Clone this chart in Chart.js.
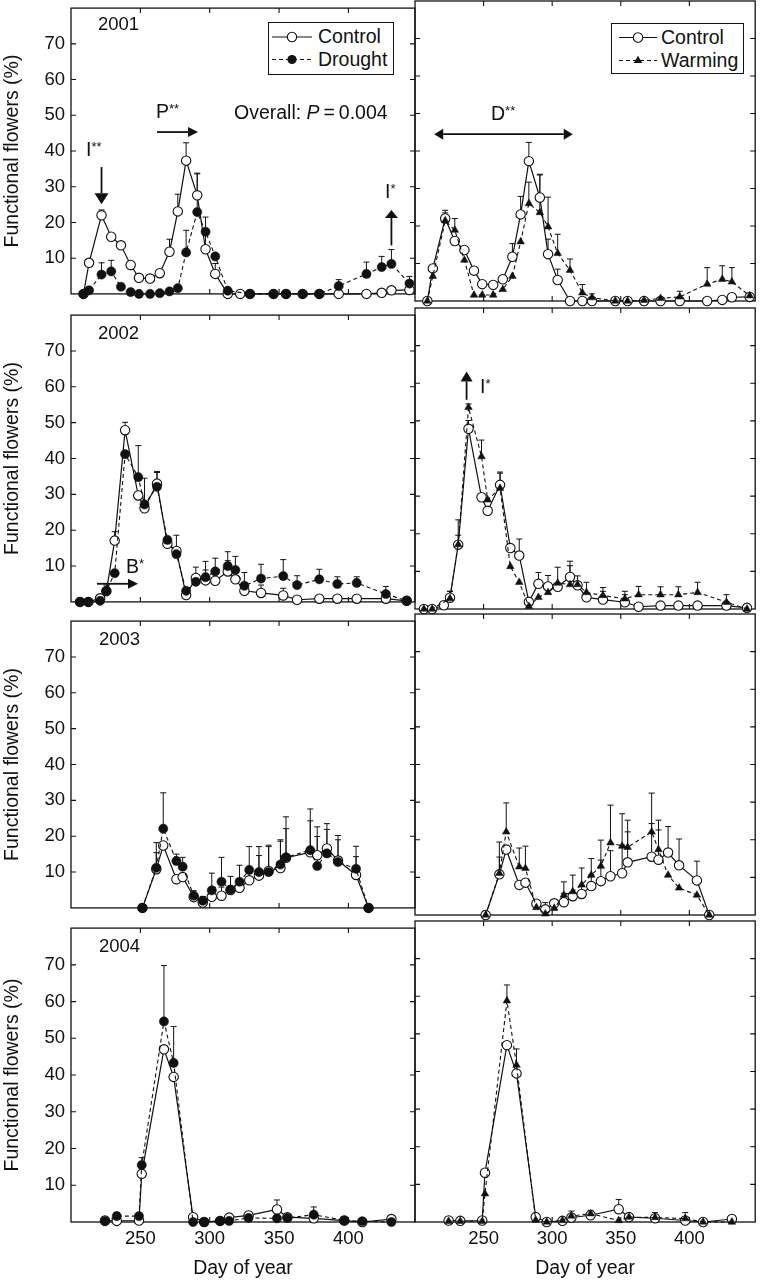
<!DOCTYPE html>
<html lang="en">
<head>
<meta charset="UTF-8">
<title>Functional flowers</title>
<script src="https://cdn.jsdelivr.net/npm/chart.js"></script>
<style>
  html, body { margin: 0; padding: 0; background: #fff; }
  #fig { position: relative; width: 761px; height: 1280px; overflow: hidden;
         font-family: "Liberation Sans", Arial, Helvetica, sans-serif; color: #111; }
  .lbl { position: absolute; font-size: 19.5px; line-height: 1; white-space: nowrap; transform: translateY(-50%); }
  .yr { font-size: 18.5px; }
  .ast { font-size: 13px; position: relative; top: -5px; }
  .legend { position: absolute; border: 1.3px solid #111; background: #fff; box-sizing: border-box; }
  .legend span { position: absolute; font-size: 19.5px; line-height: 1; transform: translateY(-50%); white-space: nowrap; }
  .legend svg { position: absolute; left: 0; top: 0; }
</style>
</head>
<body>
<div id="fig">
  <div class="lbl yr" style="left:98px;top:24px">2001</div>
  <div class="lbl yr" style="left:98px;top:333px">2002</div>
  <div class="lbl yr" style="left:99px;top:639px">2003</div>
  <div class="lbl yr" style="left:99px;top:946px">2004</div>

  <div class="lbl" style="left:86px;top:150px">I<span class="ast">**</span></div>
  <div class="lbl" style="left:156px;top:112px">P<span class="ast">**</span></div>
  <div class="lbl" style="left:234px;top:113px">Overall: <i>P</i>&#8201;=&#8201;0.004</div>
  <div class="lbl" style="left:385px;top:192px">I<span class="ast">*</span></div>
  <div class="lbl" style="left:491px;top:114px">D<span class="ast">**</span></div>
  <div class="lbl" style="left:126px;top:567px">B<span class="ast">*</span></div>
  <div class="lbl" style="left:480px;top:387px">I<span class="ast">*</span></div>

  <div class="legend" style="left:268px;top:22px;width:126px;height:53px">
    <svg width="50" height="52">
      <line x1="3" y1="14" x2="43" y2="14" stroke="#111" stroke-width="1.2"/>
      <circle cx="23" cy="14" r="4.7" fill="#fff" stroke="#111" stroke-width="1.1"/>
      <line x1="3" y1="36.5" x2="43" y2="36.5" stroke="#111" stroke-width="1.1" stroke-dasharray="4 3"/>
      <circle cx="23" cy="36.5" r="4.6" fill="#111"/>
    </svg>
    <span style="left:49px;top:14px">Control</span>
    <span style="left:49px;top:36.5px">Drought</span>
  </div>
  <div class="legend" style="left:611px;top:23px;width:133px;height:51px">
    <svg width="50" height="50">
      <line x1="7" y1="13.5" x2="45" y2="13.5" stroke="#111" stroke-width="1.2"/>
      <circle cx="26" cy="13.5" r="4.7" fill="#fff" stroke="#111" stroke-width="1.1"/>
      <line x1="7" y1="36.5" x2="45" y2="36.5" stroke="#111" stroke-width="1.1" stroke-dasharray="4 3"/>
      <polygon points="26,31.7 30.3,39 21.7,39" fill="#111"/>
    </svg>
    <span style="left:49px;top:13.5px">Control</span>
    <span style="left:49px;top:36.5px">Warming</span>
  </div>
</div>

<script>
  // ---- data (day of year, % functional flowers, upper error) ----
  const days2001 = [209, 213, 222, 229, 236, 243, 249, 257, 264, 271, 277, 283, 291, 297, 304, 313, 322, 329, 346, 355, 367, 379, 393, 413, 424, 431, 444];
  const control2001 = [0, 8.7, 22.0, 16.0, 13.6, 8.1, 4.5, 4.3, 5.8, 11.8, 23.1, 37.3, 27.6, 12.5, 5.6, 0, 0, 0, 0, 0, 0, 0, 0, 0, 0.3, 1.0, 1.1];
  const controlErr2001 = [null, null, 1.5, null, null, null, null, null, null, 3.5, 4.8, 5.0, 6.0, 4.0, 2.9, null, null, null, null, null, null, null, null, null, null, null, null];
  const drought2001 = [0, 1.0, 5.4, 6.3, 2.0, 0.5, 0, 0, 0.2, 0.7, 1.6, 11.6, 22.9, 17.4, 10.5, 0.9, null, 0, 0, 0, 0, 0, 2.2, 5.6, 7.5, 8.4, 2.9];
  const droughtErr2001 = [null, null, 3.3, 3.1, null, null, null, null, null, null, null, 6.2, 10.9, 4.1, null, null, null, null, null, null, null, null, 1.8, 3.3, 3.0, 4.0, 2.0];
  const warming2001 = [0, 6.6, 21.4, 18.9, 10.9, 1.6, 1.6, 1.6, 3.1, 6.6, 15.8, 26.0, 23.6, 19.8, 12.7, 8.2, 2.2, 0.9, 0, 0, 0.2, 0.7, 1.1, 4.5, 5.8, 5.1, 1.4];
  const warmingErr2001 = [null, null, 2.8, 3.1, null, null, null, null, null, null, null, 5.7, 10.2, 7.9, 5.1, 3.0, 2.2, 1.0, null, null, null, null, 1.5, 4.4, 3.6, 3.8, null];

  const days2002 = [206.5, 212.5, 221, 225.5, 231.5, 239, 248.5, 253, 262, 269.5, 276, 283, 290, 297, 304, 313, 318.5, 325, 337, 353, 363, 379, 392, 406, 427, 442];
  const control2002 = [0, 0, 1.0, 3.0, 17.1, 47.9, 29.7, 26.1, 33.0, 16.2, 14.2, 1.9, 6.7, 6.0, 5.9, 8.5, 6.3, 3.1, 2.5, 1.8, 0.6, 0.9, 0.9, 0.9, 0.9, 0.3];
  const controlErr2002 = [null, null, null, 1.7, 2.5, 2.2, null, null, 3.4, null, 4.4, null, 3.0, 2.9, null, 3.0, null, null, 2.2, 2.0, null, null, null, null, null, null];
  const drought2002 = [0, 0, 0.3, 3.1, 8.0, 41.2, 34.8, 27.2, 32.1, 17.3, 13.3, 3.1, 5.6, 6.9, 8.5, 10.0, 8.9, 4.5, 6.5, 7.2, 4.7, 6.3, 5.0, 5.3, 2.2, 0.3];
  const droughtErr2002 = [null, null, null, null, null, null, 8.8, 7.3, 4.0, null, null, null, null, 4.4, 3.7, 4.0, 3.8, 3.7, 4.0, 4.6, 2.6, 2.8, 2.0, 1.7, 2.1, null];
  const warming2002 = [0, 0, null, 2.8, 17.1, 53.6, 40.5, 29.0, 32.1, 11.3, 7.1, 0.7, 3.1, 4.4, 6.9, 6.5, 6.5, 4.4, 3.6, 2.7, 3.8, 3.8, 3.8, 4.4, 1.8, 0];
  const warmingErr2002 = [null, null, null, 1.9, 6.6, 0.9, 4.4, null, 4.0, null, null, null, null, null, 4.2, 6.2, 2.3, 2.7, 2.1, 2.0, 2.2, 2.1, 2.1, 2.7, 2.0, null];

  const days2003 = [251.5, 261.5, 266.5, 276, 280.5, 288.5, 295, 301.5, 308.5, 315, 321.5, 328.5, 335.5, 342.5, 351, 355, 372.5, 377.5, 384.5, 392.5, 405.5, 414.5];
  const control2003 = [0, 10.8, 17.4, 8.0, 8.6, 3.0, 1.5, 3.1, 3.4, 5.0, 5.6, 7.7, 9.0, 10.3, 11.1, 14.0, 15.5, 14.7, 16.6, 13.2, 9.2, 0];
  const controlErr2003 = [null, 4.6, null, null, null, null, null, null, 2.4, null, 2.0, 3.0, 5.6, 6.8, 7.5, 8.1, 8.8, 7.9, 6.9, 7.0, 5.1, null];
  const drought2003 = [0, 11.2, 22.1, 13.1, 11.5, 3.4, 2.0, 4.9, 7.3, 5.1, 7.3, 10.6, 10.0, 10.0, 12.1, 14.1, 16.1, 11.7, 15.2, 12.8, 10.9, 0];
  const droughtErr2003 = [null, 7.0, 10.0, 1.9, 2.6, 1.4, 1.2, 4.8, 6.8, 3.7, 4.6, 6.5, 7.1, 7.5, 6.9, 11.3, 11.5, 8.2, 6.7, 6.2, 6.3, null];
  const warming2003 = [0, 11.1, 22.1, 12.8, 12.4, 2.0, 0.3, 1.8, 5.3, 6.2, 8.0, 10.6, 13.0, 19.2, 18.3, 18.0, 22.1, 17.4, 10.6, 7.2, 5.3, 0];
  const warmingErr2003 = [null, 8.3, 7.7, 5.0, 5.9, null, 3.0, null, 3.5, 4.4, 4.5, 4.4, 6.9, 10.0, 8.6, 7.2, 10.3, 7.8, null, null, null, null];

  const days2004 = [224.5, 233, 249, 251, 267, 274, 288, 296, 307.5, 314, 328, 348.5, 356, 375, 397, 410, 431];
  const control2004 = [0.4, 0.3, 0.4, 13.1, 47.0, 39.5, 1.3, 0, 0.3, 1.2, 1.8, 3.4, 1.3, 1.0, 0.4, 0, 0.8];
  const controlErr2004 = [null, null, null, null, null, null, null, null, null, null, 0.8, 2.6, null, null, null, null, null];
  const drought2004 = [0.2, 1.6, 1.6, 15.5, 54.6, 43.3, 0, 0, 0.3, 0.3, 1.1, 1.0, 1.1, 2.0, 0.4, 0.2, 0];
  const droughtErr2004 = [null, 1.0, null, 2.0, 15.2, 9.9, null, null, null, null, null, null, 1.2, 2.1, null, null, null];
  const warming2004 = [0.2, 0.2, 0.2, 7.5, 58.8, 41.7, 0.5, 0, 0.4, 1.6, 2.2, 0.4, 1.3, 1.2, 0.9, 0, 0];
  const warmingErr2004 = [null, null, null, null, 4.2, 4.3, null, null, null, 1.3, 0.9, null, null, 1.3, 1.6, null, null];

  const xTicks = [250, 300, 350, 400];
  const yTicks = [10, 20, 30, 40, 50, 60, 70];

  // ---- layout ----
  const INK = '#111';
  const FONT = '"Liberation Sans", Arial, Helvetica, sans-serif';
  const rowTop = [1, 308, 614, 921];
  const rowH = [300, 301, 301, 301];
  const PAD = 10;

  const years = [
    { days: days2001, control: control2001, controlErr: controlErr2001, drought: drought2001, droughtErr: droughtErr2001, warming: warming2001, warmingErr: warmingErr2001 },
    { days: days2002, control: control2002, controlErr: controlErr2002, drought: drought2002, droughtErr: droughtErr2002, warming: warming2002, warmingErr: warmingErr2002 },
    { days: days2003, control: control2003, controlErr: controlErr2003, drought: drought2003, droughtErr: droughtErr2003, warming: warming2003, warmingErr: warmingErr2003 },
    { days: days2004, control: control2004, controlErr: controlErr2004, drought: drought2004, droughtErr: droughtErr2004, warming: warming2004, warmingErr: warmingErr2004 },
  ];

  // arrows in data units, keyed "row-col"
  const arrows = {
    '0-0': [
      { from: [222, 35.5], to: [222, 25.1], len: 11, half: 7 },
      { from: [262, 45.3], to: [291.6, 45.3], len: 10, half: 5 },
      { from: [431, 13.6], to: [431, 23.5], len: 8, half: 6.5 },
    ],
    '0-1': [{ from: [214, 44.5], to: [315, 44.5], len: 9, half: 5.5, both: true }],
    '1-0': [{ from: [218.7, 5.05], to: [248.3, 5.05], len: 10, half: 5 }],
    '1-1': [{ from: [237.6, 55.6], to: [237.6, 63.1], len: 10, half: 6 }],
  };

  const panelDeco = {
    id: 'panelDeco',
    beforeDatasetsDraw(chart) {
      const { ctx, chartArea: a, scales: { x, y } } = chart;
      ctx.save();
      ctx.strokeStyle = INK;
      ctx.lineWidth = 1.3;
      ctx.strokeRect(a.left, a.top, a.right - a.left, a.bottom - a.top);
      ctx.lineWidth = 1.1;
      ctx.beginPath();
      xTicks.forEach(v => {
        const px = x.getPixelForValue(v);
        ctx.moveTo(px, a.top); ctx.lineTo(px, a.top + 5);
        ctx.moveTo(px, a.bottom); ctx.lineTo(px, a.bottom - 5);
      });
      yTicks.forEach(v => {
        const py = y.getPixelForValue(v);
        ctx.moveTo(a.left, py); ctx.lineTo(a.left + 5, py);
        ctx.moveTo(a.right, py); ctx.lineTo(a.right - 5, py);
      });
      ctx.stroke();

      // upper error bars
      ctx.lineWidth = 1;
      chart.data.datasets.forEach(ds => {
        (ds.errors || []).forEach((e, i) => {
          const p = ds.data[i];
          if (e == null || p.y == null) return;
          const px = x.getPixelForValue(p.x);
          const py = y.getPixelForValue(p.y);
          const pt = y.getPixelForValue(p.y + e);
          ctx.beginPath();
          ctx.moveTo(px, py); ctx.lineTo(px, pt);
          ctx.moveTo(px - 3, pt); ctx.lineTo(px + 3, pt);
          ctx.stroke();
        });
      });
      ctx.restore();
    },
    afterDatasetsDraw(chart, args, opts) {
      const { ctx, scales: { x, y } } = chart;
      ctx.save();
      ctx.strokeStyle = INK;
      ctx.fillStyle = INK;
      ctx.lineWidth = 1.8;
      const head = (tx, ty, ux, uy, len, half) => {
        ctx.beginPath();
        ctx.moveTo(tx, ty);
        ctx.lineTo(tx - ux * len - uy * half, ty - uy * len + ux * half);
        ctx.lineTo(tx - ux * len + uy * half, ty - uy * len - ux * half);
        ctx.closePath();
        ctx.fill();
      };
      (opts.arrows || []).forEach(ar => {
        const x0 = x.getPixelForValue(ar.from[0]), y0 = y.getPixelForValue(ar.from[1]);
        const x1 = x.getPixelForValue(ar.to[0]), y1 = y.getPixelForValue(ar.to[1]);
        const d = Math.hypot(x1 - x0, y1 - y0);
        const ux = (x1 - x0) / d, uy = (y1 - y0) / d;
        const s = ar.both ? ar.len : 0;
        ctx.beginPath();
        ctx.moveTo(x0 + ux * s, y0 + uy * s);
        ctx.lineTo(x1 - ux * ar.len, y1 - uy * ar.len);
        ctx.stroke();
        head(x1, y1, ux, uy, ar.len, ar.half);
        if (ar.both) head(x0, y0, -ux, -uy, ar.len, ar.half);
      });
      ctx.restore();
    }
  };

  const series = (days, vals) => days.map((d, i) => ({ x: d, y: vals[i] }));

  const fig = document.getElementById('fig');

  function addPanel(r, c) {
    const yr = years[r];
    const bottomRow = r === 3;
    const left = c === 0 ? 0 : 415 - PAD;
    const right = c === 0 ? 415 + PAD : 761;
    const top = rowTop[r] - PAD;
    const bottom = bottomRow ? 1280 : rowTop[r] + rowH[r] + PAD;

    const cv = document.createElement('canvas');
    cv.width = right - left;
    cv.height = bottom - top;
    cv.style.cssText = `position:absolute;left:${left}px;top:${top}px;width:${right - left}px;height:${bottom - top}px`;
    fig.insertBefore(cv, fig.firstChild);

    const treat = c === 0 ? yr.drought : yr.warming;
    const treatErr = c === 0 ? yr.droughtErr : yr.warmingErr;

    new Chart(cv, {
      type: 'line',
      data: {
        datasets: [
          {
            label: 'Control',
            data: series(yr.days, yr.control),
            errors: yr.controlErr,
            order: 2,
            borderColor: INK,
            borderWidth: 1.2,
            pointStyle: 'circle',
            pointRadius: 4.7,
            pointBorderWidth: 1.1,
            pointBackgroundColor: '#fff',
            pointBorderColor: INK,
            spanGaps: true,
            clip: false,
          },
          {
            label: c === 0 ? 'Drought' : 'Warming',
            data: series(yr.days, treat),
            errors: treatErr,
            order: 1,
            borderColor: INK,
            borderWidth: 1.1,
            borderDash: [4, 3],
            pointStyle: c === 0 ? 'circle' : 'triangle',
            pointRadius: c === 0 ? 4.6 : 4.4,
            pointBorderWidth: 0.5,
            pointBackgroundColor: INK,
            pointBorderColor: INK,
            spanGaps: true,
            clip: false,
          },
        ],
      },
      options: {
        responsive: false,
        animation: false,
        devicePixelRatio: 1,
        events: [],
        layout: {
          padding: { left: c === 0 ? 0 : PAD, right: c === 0 ? PAD : 2, top: PAD, bottom: bottomRow ? 0 : PAD },
        },
        plugins: {
          legend: { display: false },
          tooltip: { enabled: false },
          panelDeco: { arrows: arrows[`${r}-${c}`] || [] },
        },
        scales: {
          x: {
            type: 'linear',
            min: 200,
            max: 448,
            display: bottomRow,
            afterBuildTicks: s => { s.ticks = xTicks.map(v => ({ value: v })); },
            afterFit: s => { s.height = bottomRow ? 58 : 0; },
            grid: { display: false, drawTicks: false },
            border: { display: false },
            ticks: { color: INK, padding: 6, font: { family: FONT, size: 18.5 }, maxRotation: 0 },
            title: {
              display: true,
              text: 'Day of year',
              color: INK,
              padding: { top: 0, bottom: 0 },
              font: { family: FONT, size: 19.5 },
            },
          },
          y: {
            type: 'linear',
            min: 0,
            max: 80,
            display: c === 0,
            afterBuildTicks: s => { s.ticks = yTicks.map(v => ({ value: v })); },
            afterFit: s => { s.width = c === 0 ? 71 : 0; },
            grid: { display: false, drawTicks: false },
            border: { display: false },
            ticks: { color: INK, padding: 6, font: { family: FONT, size: 18.5 } },
            title: {
              display: true,
              text: 'Functional flowers (%)',
              color: INK,
              padding: { top: 1, bottom: 0 },
              font: { family: FONT, size: 19.5 },
            },
          },
        },
      },
      plugins: [panelDeco],
    });
  }

  for (let r = 0; r < 4; r++) {
    for (let c = 0; c < 2; c++) addPanel(r, c);
  }
</script>
</body>
</html>
